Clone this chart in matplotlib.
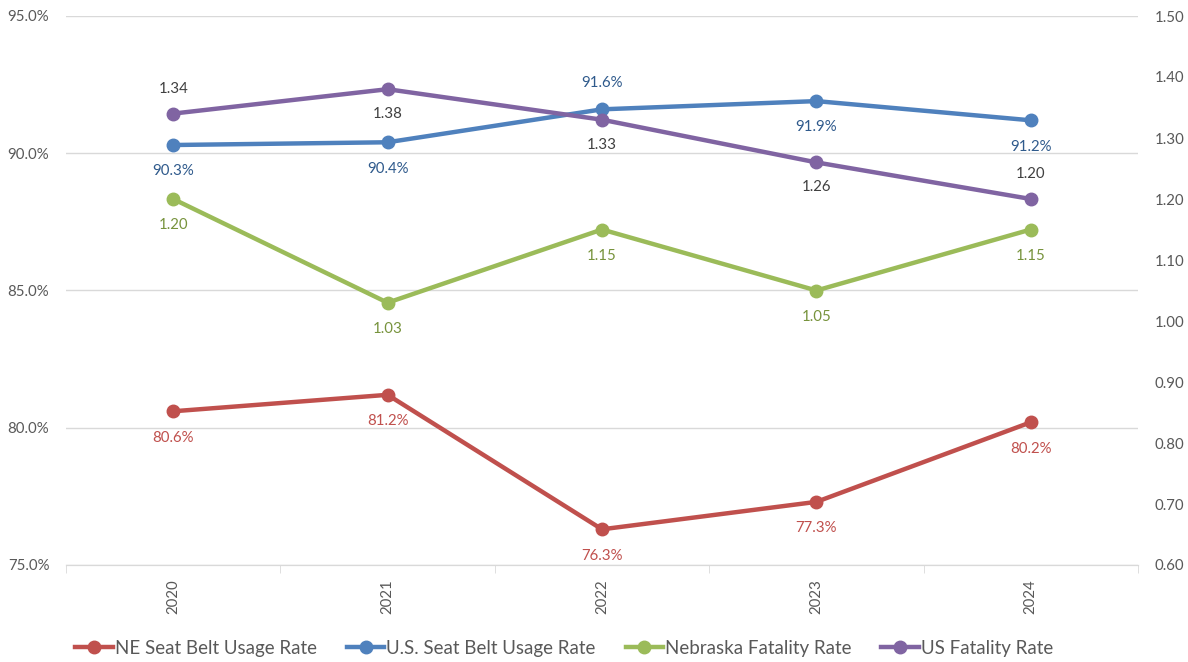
import matplotlib.pyplot as plt
import numpy as np

years = ["2020", "2021", "2022", "2023", "2024"]
ne_belt = [80.6, 81.2, 76.3, 77.3, 80.2]
us_belt = [90.3, 90.4, 91.6, 91.9, 91.2]
ne_fatal = [1.20, 1.03, 1.15, 1.05, 1.15]
us_fatal = [1.34, 1.38, 1.33, 1.26, 1.20]

# label placement: +1 above, -1 below
us_belt_pos = [-1, -1, 1, -1, -1]
us_fatal_pos = [1, -1, -1, -1, 1]

plt.rcParams['font.family'] = ['Lato', 'DejaVu Sans']

fig = plt.figure(figsize=(11.88, 6.62), dpi=100)
ax = fig.add_axes([66 / 1188, 1 - 565 / 662, (1138 - 66) / 1188, (565 - 16) / 662])
ax2 = ax.twinx()

x = np.arange(len(years))
lw = 3.2
ms = 9

red, blue, green, purple = "#C0504D", "#4F81BD", "#9BBB59", "#8064A2"

l1, = ax.plot(x, ne_belt, color=red, lw=lw, marker="o", ms=ms, label="NE Seat Belt Usage Rate")
l2, = ax.plot(x, us_belt, color=blue, lw=lw, marker="o", ms=ms, label="U.S. Seat Belt Usage Rate")
l3, = ax2.plot(x, ne_fatal, color=green, lw=lw, marker="o", ms=ms, label="Nebraska Fatality Rate")
l4, = ax2.plot(x, us_fatal, color=purple, lw=lw, marker="o", ms=ms, label="US Fatality Rate")

fs = 10.8
for xi, v in zip(x, ne_belt):
    ax.annotate(f"{v:.1f}%", (xi, v), xytext=(0, -19), textcoords="offset points",
                ha="center", va="center", color=red, fontsize=fs)
for xi, v, p in zip(x, us_belt, us_belt_pos):
    ax.annotate(f"{v:.1f}%", (xi, v), xytext=(0, 19 * p), textcoords="offset points",
                ha="center", va="center", color="#2F5A8C", fontsize=fs)
for xi, v in zip(x, ne_fatal):
    ax2.annotate(f"{v:.2f}", (xi, v), xytext=(0, -19), textcoords="offset points",
                 ha="center", va="center", color="#77933C", fontsize=fs)
for xi, v, p in zip(x, us_fatal, us_fatal_pos):
    ax2.annotate(f"{v:.2f}", (xi, v), xytext=(0, 18 * p), textcoords="offset points",
                 ha="center", va="center", color="#404040", fontsize=fs)

ax.set_xlim(-0.5, len(years) - 0.5)
ax.set_ylim(75, 95)
ax.set_yticks(np.arange(75, 95.1, 5))
ax.set_yticklabels([f"{t:.1f}%" for t in np.arange(75, 95.1, 5)])
ax2.set_ylim(0.6, 1.5)
ax2.set_yticks(np.arange(0.6, 1.501, 0.1))
ax2.set_yticklabels([f"{t:.2f}" for t in np.arange(0.6, 1.501, 0.1)])

ax.set_xticks(x)
ax.set_xticklabels(years, rotation=90)
ax.set_xticks(np.arange(-0.5, len(years)), minor=True)
ax.tick_params(axis="x", which="major", length=0, pad=10, labelcolor="#595959", labelsize=10.8)
ax.tick_params(axis="x", which="minor", length=6, color="#D9D9D9")
ax.tick_params(axis="y", length=0, labelcolor="#595959", labelsize=10.8, pad=12)
ax2.tick_params(axis="y", length=0, labelcolor="#595959", labelsize=10.8, pad=12)

ax.grid(axis="y", color="#D9D9D9", lw=1)
ax.set_axisbelow(True)
for a in (ax, ax2):
    for s in ("top", "left", "right"):
        a.spines[s].set_visible(False)
    a.spines["bottom"].set_color("#D9D9D9")

fig.legend(handles=[l1, l2, l3, l4], loc="center", bbox_to_anchor=(0.475, 0.021),
           ncol=4, frameon=False, fontsize=13.5, labelcolor="#595959",
           handlelength=2.0, handletextpad=0.1, columnspacing=1.6)

fig.savefig("out.png", dpi=100)
